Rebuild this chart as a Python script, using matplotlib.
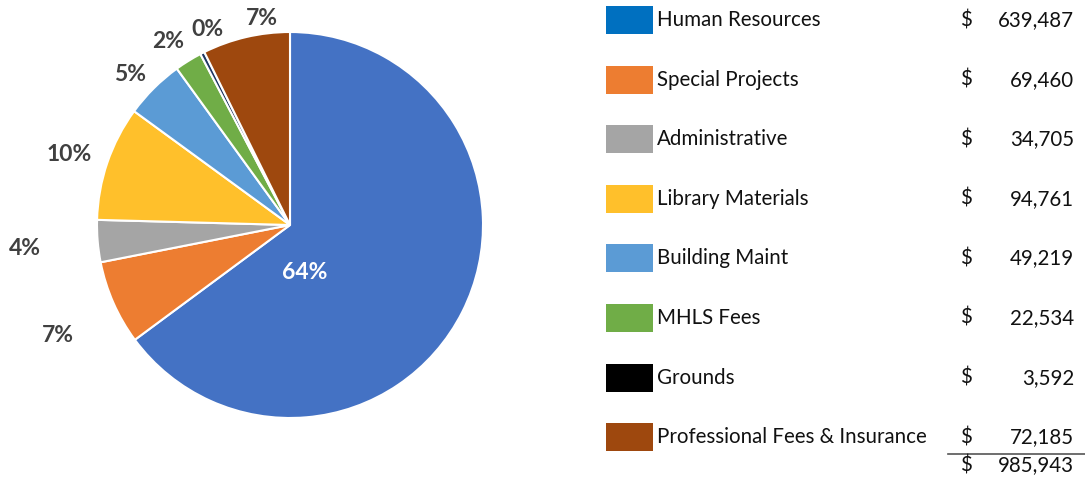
import numpy as np
import matplotlib
matplotlib.use("Agg")
import matplotlib.pyplot as plt
from matplotlib.patches import Rectangle

categories = ["Human Resources", "Special Projects", "Administrative", "Library Materials",
              "Building Maint", "MHLS Fees", "Grounds", "Professional Fees & Insurance"]
amounts = [639487, 69460, 34705, 94761, 49219, 22534, 3592, 72185]
pct_labels = ["64%", "7%", "4%", "10%", "5%", "2%", "0%", "7%"]
total_label = "985,943"

slice_colors = ["#4472C4", "#ED7D31", "#A5A5A5", "#FFC02B", "#5B9BD5", "#70AD47", "#1F3864", "#9E480E"]
swatch_colors = ["#0070C0", "#ED7D31", "#A5A5A5", "#FFC02B", "#5B9BD5", "#70AD47", "#000000", "#9E480E"]

# label placement (radius in pie units, angle offset from wedge middle)
label_r = [0.26, 1.33, 1.38, 1.20, 1.14, 1.14, 1.10, 1.08]
label_dang = [-45.9, 1.6, 0.2, 1.1, 1.9, 1.9, -4.2, -5.5]

plt.rcParams['font.family'] = ['Lato', 'DejaVu Sans']

W, H = 1085, 479
fig = plt.figure(figsize=(W / 100, H / 100), dpi=100)

# legend / table in pixel coordinates
tab = fig.add_axes([0, 0, 1, 1])
tab.set_xlim(0, W)
tab.set_ylim(H, 0)
tab.axis("off")

fs = 14.8
row_y0, row_step = 20, 59.6
for i, (name, val) in enumerate(zip(categories, amounts)):
    y = row_y0 + i * row_step
    tab.add_patch(Rectangle((606, y - 14), 47, 28, facecolor=swatch_colors[i], edgecolor="none"))
    tab.text(657, y, name, fontsize=fs, va="center", ha="left", color="#111111")
    tab.text(960, y, "$", fontsize=fs, va="center", ha="left", color="#111111")
    tab.text(1074, y, f"{val:,}", fontsize=fs, va="center", ha="right", color="#111111")

tab.plot([948, 1085], [454, 454], color="#555555", lw=1.2)
tab.text(960, 465, "$", fontsize=fs, va="center", ha="left", color="#111111")
tab.text(1074, 465, total_label, fontsize=fs, va="center", ha="right", color="#111111")

# pie chart
cx, cy, r = 290, 225, 193
ax = fig.add_axes([(cx - r) / W, (H - cy - r) / H, 2 * r / W, 2 * r / H])
wedges, _ = ax.pie(amounts, colors=slice_colors, startangle=90, counterclock=False,
                   wedgeprops=dict(edgecolor="white", linewidth=1.5), radius=1)
ax.set_xlim(-1, 1)
ax.set_ylim(-1, 1)
ax.set_aspect("equal")
ax.axis("off")

for i, w in enumerate(wedges):
    mid = np.deg2rad((w.theta1 + w.theta2) / 2 + label_dang[i])
    x, y = label_r[i] * np.cos(mid), label_r[i] * np.sin(mid)
    ax.text(x, y, pct_labels[i], ha="center", va="center", fontsize=16.5, fontweight="bold",
            color="white" if i == 0 else "#404040", clip_on=False)

fig.savefig("out.png", dpi=100)
